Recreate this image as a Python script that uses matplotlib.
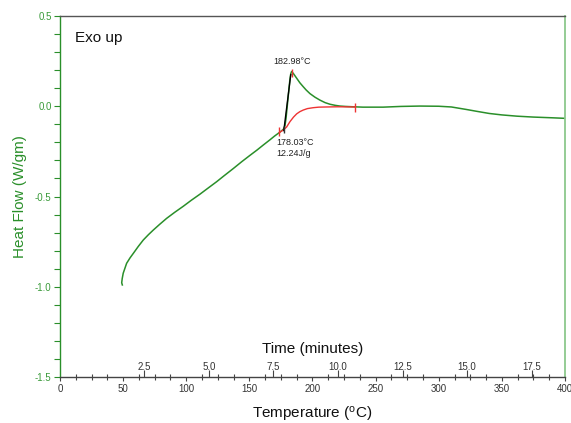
import matplotlib
matplotlib.use("Agg")
import matplotlib.pyplot as plt
from matplotlib.ticker import MultipleLocator

plt.rcParams['font.family'] = ['Liberation Sans', 'DejaVu Sans']

# ---- data ----
temp = [49.4, 48.9, 49.3, 50.1, 52.8, 55.5, 58.1, 62, 66, 70, 73.9, 79, 84.5, 91, 97.7,
        104, 110.9, 117, 124.1, 130, 137.3, 144, 150.5, 156, 161, 166.3, 170, 173.7,
        176.9, 178.2, 179, 180, 181, 182, 182.8, 183.5, 185, 187.5, 190, 192.7, 195,
        198, 202, 205.9, 210, 213.9, 218, 221.8, 226, 232.3, 240, 256, 270, 285, 300,
        310, 322, 330, 340, 350, 362, 375, 390, 400]
heat_flow = [-0.99, -0.978, -0.955, -0.925, -0.87, -0.84, -0.815, -0.777, -0.741, -0.712,
             -0.686, -0.654, -0.621, -0.587, -0.554, -0.521, -0.487, -0.455, -0.418,
             -0.385, -0.345, -0.307, -0.272, -0.243, -0.215, -0.186, -0.165, -0.146,
             -0.128, -0.108, -0.07, 0.0, 0.07, 0.14, 0.18, 0.193, 0.18, 0.155, 0.13,
             0.108, 0.09, 0.07, 0.05, 0.034, 0.02, 0.011, 0.005, 0.001, -0.001, -0.003,
             -0.005, -0.005, -0.001, 0.001, 0.0, -0.004, -0.018, -0.028, -0.04, -0.048,
             -0.055, -0.06, -0.064, -0.067]

base_temp = [173.7, 177, 179.5, 182.2, 185, 187.5, 190, 192.7, 196, 200.6, 205, 211.2,
             220, 233.7]
base_flow = [-0.146, -0.131, -0.115, -0.085, -0.06, -0.042, -0.03, -0.021, -0.013,
             -0.008, -0.005, -0.004, -0.003, -0.004]

tangent_temp = [177.3, 182.8]
tangent_flow = [-0.135, 0.175]

red_tick_temp = [173.7, 183.5, 233.7]
red_tick_flow = [-0.14, 0.185, -0.007]
black_tick_temp = [177.7]
black_tick_flow = [-0.13]

peak_label = "182.98°C"
onset_label = "178.03°C\n12.24J/g"

# time axis: temperature = t0 + rate * minutes
t0 = 15.7
rate = 20.45
time_ticks = [2.5, 5.0, 7.5, 10.0, 12.5, 15.0, 17.5]

green = '#2a8f2a'
red = '#ee3333'

fig = plt.figure(figsize=(5.71, 4.23), dpi=100)
ax = fig.add_axes([0.105, 0.1087, 0.8845, 0.8535])

ax.plot(temp, heat_flow, color=green, lw=1.1)
ax.plot(base_temp, base_flow, color=red, lw=1.0)
ax.plot(tangent_temp, tangent_flow, color='black', lw=1.0)
ax.errorbar(red_tick_temp, red_tick_flow, yerr=0.023, fmt='none', ecolor=red, elinewidth=1.0)
ax.errorbar(black_tick_temp, black_tick_flow, yerr=0.02, fmt='none', ecolor='#333333', elinewidth=1.0)

ax.text(183.5, 0.247, peak_label, ha='center', va='center', fontsize=6.5, color='#222222')
ax.text(171.5, -0.232, onset_label, ha='left', va='center', fontsize=6.5, color='#222222',
        linespacing=1.25)

ax.set_xlim(0, 400)
ax.set_ylim(-1.5, 0.5)

ax.xaxis.set_major_locator(MultipleLocator(50))
ax.xaxis.set_minor_locator(MultipleLocator(12.5))
ax.yaxis.set_minor_locator(MultipleLocator(0.1))
ax.set_yticks([0.5, 0.0, -0.5, -1.0, -1.5])
ax.set_yticklabels(['0.5', '0.0', '-0.5', '-1.0', '-1.5'])

ax.tick_params(axis='x', which='major', direction='out', length=3, width=0.8, color='#444444',
               labelsize=7, labelcolor='#333333', pad=2)
ax.tick_params(axis='x', which='minor', direction='inout', length=4, width=0.8, color='#444444')
ax.tick_params(axis='y', which='major', direction='out', length=4, width=0.8, color=green,
               labelsize=7, labelcolor='#3a9a3a', pad=2)
ax.tick_params(axis='y', which='minor', direction='out', length=4, width=0.8, color=green)

ax.spines['left'].set_color(green)
ax.spines['right'].set_color('#8cc88c')
ax.spines['top'].set_color('#555555')
ax.spines['bottom'].set_color('#444444')
for s in ax.spines.values():
    s.set_linewidth(1.0)
ax.spines['right'].set_linewidth(1.3)

secax = ax.secondary_xaxis(0, functions=(lambda x: (x - t0) / rate, lambda t: t * rate + t0))
secax.set_xticks(time_ticks)
secax.xaxis.set_minor_locator(MultipleLocator(0.5))
secax.tick_params(axis='x', which='major', direction='in', length=5, width=0.8, color='#444444',
                  labelsize=7, labelcolor='#333333', pad=-10.5)
secax.tick_params(axis='x', which='minor', direction='in', length=0)
secax.spines['bottom'].set_visible(False)

ax.text(0.5, 0.077, 'Time (minutes)', transform=ax.transAxes, ha='center', va='center',
        fontsize=11, color='#111111')
ax.set_xlabel('Temperature ($\\mathregular{^{o}}$C)', fontsize=11, color='#111111', labelpad=8)
ax.set_ylabel('Heat Flow (W/gm)', fontsize=11, color=green, labelpad=5.5)
ax.text(0.03, 0.94, 'Exo up', transform=ax.transAxes, ha='left', va='center', fontsize=11,
        color='#111111')

fig.savefig('out.png', dpi=100)
